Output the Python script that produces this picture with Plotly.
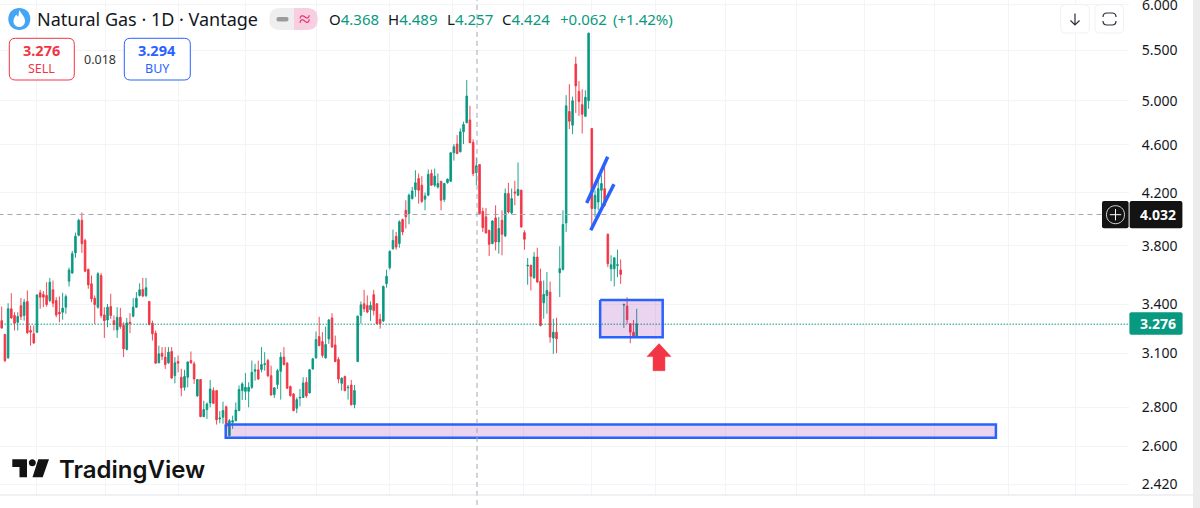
import plotly.graph_objects as go

opens = [3.298,3.213,3.074,3.373,3.330,3.288,3.392,3.330,3.420,3.237,
3.217,3.227,3.477,3.466,3.459,3.426,3.496,3.426,3.351,3.351,
3.383,3.554,3.609,3.749,3.876,3.988,3.839,3.634,3.536,3.441,
3.383,3.592,3.334,3.302,3.387,3.298,3.241,3.319,3.268,3.123,
3.288,3.326,3.383,3.459,3.499,3.459,3.420,3.282,3.221,3.045,
3.101,3.078,3.045,3.111,2.972,3.052,2.963,2.907,2.963,3.058,
3.039,2.860,2.950,2.750,2.787,2.822,2.889,2.889,2.738,2.747,
2.802,2.653,2.721,2.729,2.782,2.889,2.885,2.885,2.907,2.997,
3.005,3.007,3.035,3.058,2.972,2.867,2.922,2.997,3.078,3.043,
2.911,2.871,2.794,2.849,2.852,2.935,2.876,3.010,3.074,3.200,
3.170,3.074,3.186,3.315,3.150,3.064,2.929,2.967,2.904,2.920,
2.813,3.052,3.331,3.405,3.394,3.366,3.464,3.405,3.306,3.296,
3.537,3.646,3.779,3.869,3.816,3.993,4.064,4.039,4.155,4.226,
4.317,4.262,4.150,4.182,4.357,4.262,4.248,4.294,4.148,4.281,
4.294,4.531,4.607,4.540,4.715,4.797,4.821,4.622,4.365,4.432,
4.056,4.014,3.913,3.816,4.006,3.828,3.988,3.872,4.195,4.044,
4.208,4.182,4.221,3.896,3.657,3.662,3.576,3.720,3.553,3.411,
3.459,3.481,3.191,3.227,3.611,3.634,3.968,4.90,4.775,5.36,
5.09,4.964,4.856,5.0,4.745,4.077,4.128,4.221,4.234,3.884,
3.638,3.638,3.661,3.63,3.396,3.39,3.278,3.227,3.196]

highs = [3.387,3.217,3.409,3.474,3.351,3.351,3.443,3.437,3.492,3.268,
3.268,3.463,3.496,3.488,3.547,3.576,3.558,3.448,3.452,3.477,
3.466,3.646,3.763,3.896,4.0,4.047,3.851,3.639,3.592,3.459,
3.615,3.609,3.383,3.404,3.470,3.330,3.383,3.379,3.288,3.315,
3.345,3.441,3.481,3.540,3.576,3.576,3.420,3.298,3.237,3.146,
3.137,3.137,3.137,3.137,3.078,3.088,3.010,3.005,3.052,3.111,
3.052,2.953,2.953,2.834,2.825,2.948,2.907,2.889,2.779,2.829,
2.808,2.738,2.755,2.825,2.917,2.935,2.986,2.935,3.058,3.039,
3.058,3.137,3.107,3.068,3.029,2.907,3.010,3.107,3.137,3.049,
2.917,2.874,2.852,2.898,2.963,2.963,3.010,3.074,3.231,3.322,
3.227,3.261,3.309,3.345,3.206,3.078,2.963,2.972,2.920,2.948,
2.920,3.330,3.420,3.496,3.459,3.420,3.496,3.409,3.341,3.525,
3.632,3.767,3.918,3.901,3.988,4.001,4.142,4.195,4.248,4.384,
4.357,4.335,4.203,4.390,4.390,4.398,4.357,4.294,4.281,4.316,
4.537,4.607,4.686,4.745,4.806,5.2,4.953,4.648,4.492,4.432,
4.085,4.082,3.918,3.988,4.103,4.014,4.064,4.235,4.281,4.235,
4.297,4.449,4.227,3.913,3.713,3.667,3.755,3.786,3.639,3.558,
3.616,3.551,3.31,3.316,3.797,4.064,5.054,5.16,5.04,5.435,
5.19,5.11,5.1,5.69,4.745,4.221,4.357,4.343,4.412,3.889,
3.732,3.715,3.772,3.703,3.405,3.448,3.282,3.302,3.373]

lows = [3.247,3.049,3.068,3.309,3.237,3.237,3.302,3.298,3.217,3.146,
3.156,3.221,3.373,3.383,3.387,3.415,3.383,3.319,3.288,3.304,
3.341,3.518,3.604,3.715,3.869,3.749,3.615,3.503,3.415,3.278,
3.373,3.315,3.192,3.257,3.309,3.237,3.192,3.247,3.078,3.117,
3.221,3.319,3.379,3.452,3.448,3.448,3.268,3.176,3.039,3.043,
3.061,3.010,3.039,2.953,2.929,2.991,2.858,2.889,2.907,3.039,
2.926,2.856,2.747,2.747,2.738,2.799,2.817,2.709,2.716,2.713,
2.687,2.648,2.687,2.726,2.778,2.838,2.838,2.799,2.898,2.944,
2.948,2.991,3.0,2.963,2.862,2.849,2.898,2.84,3.029,2.898,
2.856,2.778,2.768,2.804,2.849,2.849,2.874,3.005,3.068,3.142,
3.074,3.068,3.156,3.133,3.049,2.929,2.889,2.885,2.84,2.808,
2.794,3.049,3.279,3.352,3.345,3.296,3.331,3.275,3.248,3.29,
3.510,3.632,3.772,3.772,3.786,3.877,3.926,3.958,4.148,4.169,
4.116,4.121,4.064,4.174,4.256,4.248,4.235,4.064,4.129,4.275,
4.289,4.465,4.520,4.534,4.607,4.791,4.615,4.335,4.262,4.034,
3.901,3.889,3.727,3.811,3.767,3.744,3.732,3.864,4.039,4.034,
4.103,4.174,3.933,3.772,3.530,3.492,3.571,3.541,3.262,3.310,
3.341,3.163,3.097,3.101,3.449,3.627,3.901,4.74,4.694,4.886,
4.859,4.70,4.85,4.925,3.926,4.013,4.064,4.09,4.09,3.65,
3.554,3.519,3.581,3.536,3.253,3.278,3.16,3.196,3.196]

closes = [3.253,3.058,3.373,3.315,3.282,3.324,3.324,3.415,3.223,3.227,
3.162,3.463,3.448,3.448,3.400,3.547,3.409,3.334,3.341,3.377,
3.452,3.630,3.744,3.869,3.988,3.815,3.622,3.529,3.437,3.400,
3.604,3.330,3.298,3.383,3.330,3.274,3.319,3.261,3.127,3.284,
3.282,3.383,3.441,3.496,3.455,3.510,3.274,3.217,3.043,3.097,
3.083,3.035,3.107,2.959,3.045,3.043,2.904,2.967,3.050,3.045,
2.953,2.950,2.750,2.787,2.817,2.898,2.820,2.734,2.743,2.782,
2.696,2.729,2.729,2.785,2.895,2.926,2.907,2.907,2.991,3.005,
2.953,3.035,3.039,2.972,2.865,2.904,3.0,3.078,3.035,2.902,
2.862,2.782,2.840,2.852,2.931,2.860,3.005,3.068,3.182,3.146,
3.088,3.152,3.302,3.137,3.052,2.953,2.957,2.889,2.907,2.813,
2.889,3.326,3.398,3.373,3.352,3.394,3.362,3.279,3.279,3.518,
3.587,3.760,3.839,3.791,3.976,3.901,4.014,4.182,4.216,4.281,
4.221,4.133,4.176,4.351,4.262,4.335,4.275,4.142,4.275,4.311,
4.531,4.583,4.525,4.715,4.781,5.045,4.619,4.357,4.421,4.039,
3.933,3.894,3.811,3.983,3.828,3.926,3.884,4.195,4.051,4.155,
4.2,4.227,3.938,3.847,3.662,3.587,3.720,3.549,3.268,3.466,
3.492,3.197,3.227,3.187,3.639,3.956,4.953,4.81,5.0,5.143,
4.994,4.874,5.033,5.682,4.077,4.181,4.234,4.275,4.103,3.673,
3.666,3.715,3.666,3.6,3.401,3.304,3.227,3.2,3.278]

bars = list(range(len(closes)))

price_ticks = [6.0, 5.5, 5.0, 4.6, 4.2, 3.8, 3.4, 3.1, 2.8, 2.6, 2.42]
price_labels = ["", "5.500", "5.000", "4.600", "4.200", "3.800", "3.400", "3.100", "2.800", "2.600", "2.420"]
time_grid = [11.0, 32.5, 55, 76, 98.2, 120.8, 140.7, 162.6, 184, 204, 225.8, 247.9, 269.1, 290.9, 314, 334.7]

last_price = 3.276
cross_price = 4.032
cross_bar = 148.2

zone_low_x = [69.85, 310, 310, 69.85, 69.85]
zone_low_y = [2.709, 2.709, 2.642, 2.642, 2.709]
zone_box_x = [186.6, 206.1, 206.1, 186.6, 186.6]
zone_box_y = [3.43, 3.43, 3.196, 3.196, 3.43]
chan_a_x = [182.4, 188.96]
chan_a_y = [4.12, 4.497]
chan_b_x = [183.66, 190.9]
chan_b_y = [3.913, 4.27]
arrow_x = [204.96, 208.7, 206.8, 206.8, 203.1, 203.1, 201.2, 204.96]
arrow_y = [3.158, 3.081, 3.081, 3.0, 3.0, 3.081, 3.081, 3.158]

GREEN = "#089981"
RED = "#F23645"
BLUE = "#2962FF"
INK = "#131722"
FONT = "Noto Sans"
PW, PH = 1129.0, 495.0

fig = go.Figure()
fig.add_trace(go.Candlestick(
    x=bars, open=opens, high=highs, low=lows, close=closes,
    increasing=dict(line=dict(color=GREEN, width=0.9), fillcolor=GREEN),
    decreasing=dict(line=dict(color=RED, width=0.9), fillcolor=RED),
    whiskerwidth=0, hoverinfo="skip", showlegend=False))

def line_trace(x, y, **kw):
    fig.add_trace(go.Scatter(x=x, y=y, mode="lines", hoverinfo="skip", showlegend=False, **kw))

line_trace([-1, 343], [cross_price, cross_price], line=dict(color="#a5a8b0", width=1, dash="5px,4px"))
line_trace([-1, 352], [last_price, last_price], line=dict(color=GREEN, width=1, dash="1.5px,1.5px"))
line_trace(zone_low_x, zone_low_y, fill="toself", fillcolor="rgba(156,39,176,0.2)", line=dict(color=BLUE, width=2.5))
line_trace(zone_box_x, zone_box_y, fill="toself", fillcolor="rgba(156,39,176,0.2)", line=dict(color=BLUE, width=2.5))
line_trace(chan_a_x, chan_a_y, line=dict(color=BLUE, width=3.5))
line_trace(chan_b_x, chan_b_y, line=dict(color=BLUE, width=3.5))
line_trace(arrow_x, arrow_y, fill="toself", fillcolor=RED, line=dict(color=RED, width=0.5))

def X(v): return v / PW
def Y(v): return 1 - v / PH

def path_px(d):
    out, num_is_x = [], True
    for tok in d.split():
        if tok[0].isalpha():
            out.append(tok)
            num_is_x = True
        else:
            out.append(f"{X(float(tok)) if num_is_x else Y(float(tok)):.5f}")
            num_is_x = not num_is_x
    return " ".join(out)

shapes, annos = [], []

def shape_path(d, fill=None, line=None, width=0):
    shapes.append(dict(type="path", xref="paper", yref="paper", path=path_px(d), layer="above",
                       fillcolor=fill or "rgba(0,0,0,0)",
                       line=dict(color=line or "rgba(0,0,0,0)", width=width)))

def rrect(x0, y0, x1, y1, r, **kw):
    shape_path(f"M {x0+r} {y0} L {x1-r} {y0} Q {x1} {y0} {x1} {y0+r} L {x1} {y1-r} Q {x1} {y1} {x1-r} {y1} "
               f"L {x0+r} {y1} Q {x0} {y1} {x0} {y1-r} L {x0} {y0+r} Q {x0} {y0} {x0+r} {y0} Z", **kw)

def text(x, y, s, size, color=INK, anchor="left", bold=False, fam=FONT, weight=None):
    f = dict(family=fam, size=size, color=color)
    if weight:
        f["weight"] = weight
    annos.append(dict(xref="paper", yref="paper", x=X(x), y=Y(y), text=f"<b>{s}</b>" if bold else s,
                      showarrow=False, xanchor=anchor, yanchor="middle", borderpad=0, font=f))

# crosshair vertical
shapes.append(dict(type="line", xref="x", yref="paper", x0=cross_bar, x1=cross_bar, y0=-0.02, y1=1,
                   line=dict(color="#a5a8b0", width=1, dash="5px,4px"), layer="above"))
# right edge strip
shape_path("M 1193 0 L 1200 0 L 1200 508 L 1193 508 Z", fill="#ececec")

# top price label, which sits at the page edge
text(1141, 4.5, "6.000", 14)

# instrument icon
shape_path("M 8.3 19 C 8.3 4.3 30.3 4.3 30.3 19 C 30.3 33.7 8.3 33.7 8.3 19 Z", fill="#42A5F5")
shape_path("M 19.5 10 C 21 14 25 16 25 21 C 25 24.5 22.5 27 19.3 27 C 16 27 13.5 24.5 13.5 21 C 13.5 18 15 16.5 16.3 14.5 C 17 16 17.6 16.5 18.3 16.5 C 18.8 14 18.8 12 19.5 10 Z", fill="#ffffff")
text(35.5, 19, "Natural Gas · 1D · Vantage", 18)

# pill
shape_path("M 294 8 L 280 8 Q 269.3 8 269.3 19 Q 269.3 30 280 30 L 294 30 Z", fill="#eeeeee")
shape_path("M 294 8 L 307 8 Q 317.7 8 317.7 19 Q 317.7 30 307 30 L 294 30 Z", fill="#f8cfe0")
rrect(276.5, 17, 288.5, 21.5, 2, fill="#9b9b9b")
text(305, 18, "≈", 21, "#E91E63", "center")

# OHLC
for x, k, v in [(328, "O", "4.368"), (386.7, "H", "4.489"), (445.7, "L", "4.257"), (501, "C", "4.424")]:
    text(x, 19, f'{k}<span style="color:{GREEN}">{v}</span>', 15)
text(559.3, 19, "+0.062", 15, GREEN)
text(611.7, 19, "(+1.42%)", 15, GREEN)

# sell / buy
rrect(9.3, 38.3, 74.3, 80, 6, fill="#ffffff", line=RED, width=1)
text(41.8, 50, "3.276", 14.5, RED, "center", bold=True)
text(41.8, 68.5, "SELL", 12.5, RED, "center")
text(99.5, 59.5, "0.018", 12.5, "#333333", "center")
rrect(124.3, 38.3, 190.3, 80, 6, fill="#ffffff", line=BLUE, width=1)
text(157.3, 50, "3.294", 14.5, BLUE, "center", bold=True)
text(157.3, 68.5, "BUY", 12.5, BLUE, "center")

# buttons
rrect(1060.7, 4.7, 1089.3, 33, 5, fill="#ffffff", line="#f0f1f4", width=1)
rrect(1095, 4.7, 1123.5, 33, 5, fill="#ffffff", line="#f0f1f4", width=1)
shape_path("M 1075 13.5 L 1075 25 M 1070.5 20.5 L 1075 25 L 1079.5 20.5", line="#2a2e39", width=1.2)
shape_path("M 1103 17 Q 1103 13 1107 13 L 1112 13 Q 1116 13 1116 17", line="#2a2e39", width=1.2)
shape_path("M 1103 21 Q 1103 25 1107 25 L 1112 25 Q 1116 25 1116 21", line="#2a2e39", width=1.2)

# crosshair tag
rrect(1102, 201, 1128.6, 228.3, 2, fill="#131313")
rrect(1129.6, 201, 1182.4, 228.3, 2, fill="#131313")
shape_path("M 1106.5 214.7 C 1106.5 202.7 1124.5 202.7 1124.5 214.7 C 1124.5 226.7 1106.5 226.7 1106.5 214.7 Z", line="#d8d8d8", width=1)
shape_path("M 1115.5 209 L 1115.5 220.4 M 1109.8 214.7 L 1121.2 214.7", line="#ffffff", width=1)
text(1158, 214.5, "4.032", 14, "#ffffff", "center", bold=True)

# last price tag
rrect(1129.4, 312.3, 1182.6, 334.7, 2, fill=GREEN)
text(1158, 323.5, "3.276", 14, "#ffffff", "center", bold=True)

# TradingView logo
shape_path("M 12.3 459.3 L 27 459.3 L 27 477.3 L 19.5 477.3 L 19.5 467 L 12.3 467 Z", fill="#131313")
shape_path("M 28.8 462.7 C 28.8 458 35.8 458 35.8 462.7 C 35.8 467.4 28.8 467.4 28.8 462.7 Z", fill="#131313")
shape_path("M 38.3 459.3 L 49 459.3 L 42.7 477.3 L 32.5 477.3 Z", fill="#131313")
text(58, 469, "TradingView", 24, "#131313", fam="Inter", weight=600)

fig.update_layout(
    width=1200, height=508,
    margin=dict(l=0, r=71, t=0, b=13, pad=0),
    paper_bgcolor="#ffffff", plot_bgcolor="#ffffff",
    boxgap=0.5, boxgroupgap=0, boxmode="overlay",
    showlegend=False,
    shapes=shapes, annotations=annos,
    xaxis=dict(range=[-0.53, 351.5], tickmode="array", tickvals=time_grid, showticklabels=False,
               ticks="", showgrid=True, gridcolor="#f3f4f6", gridwidth=1, zeroline=False,
               rangeslider=dict(visible=False), showline=False),
    yaxis=dict(type="log", range=[0.37493, 0.78183], side="right", tickmode="array",
               tickvals=price_ticks, ticktext=price_labels, showgrid=True, gridcolor="#f3f4f6", gridwidth=1,
               zeroline=False, showline=False, ticks="outside", ticklen=9, tickcolor="rgba(0,0,0,0)",
               tickfont=dict(family=FONT, size=14, color=INK)),
)
# bottom rule of the chart
fig.add_shape(type="line", xref="paper", yref="paper", x0=0, x1=X(1193), y0=0, y1=0,
              line=dict(color="#e0e3eb", width=1), layer="above")

fig.write_html("out.html", config=dict(displayModeBar=False),
               post_script="document.body.style.margin='0';document.documentElement.style.overflow='hidden';")
